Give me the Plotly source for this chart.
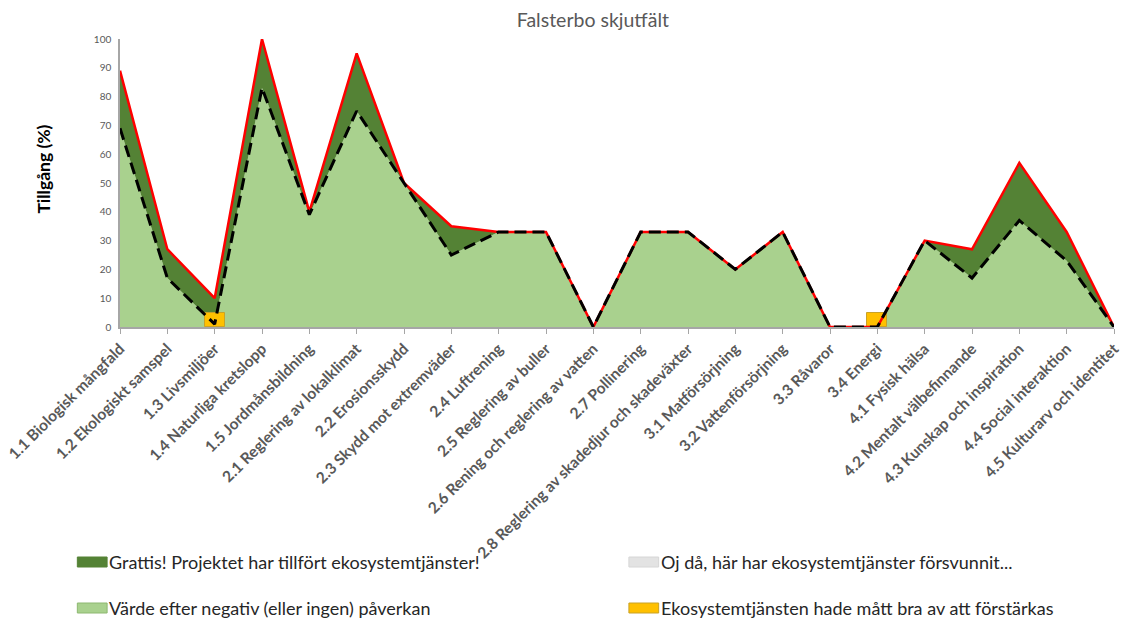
import plotly.graph_objects as go

# Ecosystem services assessed for the site
categories = [
    "1.1 Biologisk mångfald", "1.2 Ekologiskt samspel", "1.3 Livsmiljöer",
    "1.4 Naturliga kretslopp", "1.5 Jordmånsbildning", "2.1 Reglering av lokalklimat",
    "2.2 Erosionsskydd", "2.3 Skydd mot extremväder", "2.4 Luftrening",
    "2.5 Reglering av buller", "2.6 Rening och reglering av vatten", "2.7 Pollinering",
    "2.8 Reglering av skadedjur och skadeväxter", "3.1 Matförsörjning",
    "3.2 Vattenförsörjning", "3.3 Råvaror", "3.4 Energi", "4.1 Fysisk hälsa",
    "4.2 Mentalt välbefinnande", "4.3 Kunskap och inspiration",
    "4.4 Social interaktion", "4.5 Kulturarv och identitet",
]

# Availability (%) after negative (or no) impact
after_values = [69, 17, 1, 83, 39, 75, 50, 25, 33, 33, 0, 33, 33, 20, 33, 0, 0, 30, 17, 37, 23, 0]
# Availability (%) including what the project has added
total_values = [89, 27, 10, 100, 40, 95, 50, 35, 33, 33, 0, 33, 33, 20, 33, 0, 0, 30, 27, 57, 33, 0]
# Services that have been lost
loss_values = [0] * 22
# Services that would benefit from being strengthened
strengthen_values = [0, 0, 5, 0, 0, 0, 0, 0, 0, 0, 0, 0, 0, 0, 0, 0, 5, 0, 0, 0, 0, 0]

# Legend texts
legend_labels = [
    "Grattis! Projektet har tillfört ekosystemtjänster!",
    "Oj då, här har ekosystemtjänster försvunnit...",
    "Värde efter negativ (eller ingen) påverkan",
    "Ekosystemtjänsten hade mått bra av att förstärkas",
]

LIGHT_GREEN = "#A9D18E"
DARK_GREEN = "#548235"
LOSS_GREY = "#E3E3E3"
ORANGE = "#FFC000"
AXIS_GREY = "#A6A6A6"
TEXT_GREY = "#595959"
FONT = "Lato"

W, H = 1125, 619
M_L, M_R, M_T, M_B = 120, 3, 39, 292
PLOT_W = W - M_L - M_R
PLOT_H = H - M_T - M_B


def px_x(px):
    """Pixel column -> paper x."""
    return (px - M_L) / PLOT_W


def px_y(py):
    """Pixel row -> paper y."""
    return (H - M_B - py) / PLOT_H


fig = go.Figure()

# Stacked areas: base value, loss band, gain band
fig.add_trace(go.Scatter(
    x=categories, y=after_values, mode="lines", fill="tozeroy",
    fillcolor=LIGHT_GREEN, line=dict(width=0, color=LIGHT_GREEN),
    name=legend_labels[2], showlegend=False, hoverinfo="skip",
))
loss_top = [a + l for a, l in zip(after_values, loss_values)]
fig.add_trace(go.Scatter(
    x=categories, y=loss_top, mode="lines", fill="tonexty",
    fillcolor=LOSS_GREY, line=dict(width=0, color=LOSS_GREY),
    name=legend_labels[1], showlegend=False, hoverinfo="skip",
))
fig.add_trace(go.Scatter(
    x=categories, y=total_values, mode="lines", fill="tonexty",
    fillcolor=DARK_GREEN, line=dict(width=0, color=DARK_GREEN),
    name=legend_labels[0], showlegend=False, hoverinfo="skip",
))

# Bars and lines sit on an overlay so they are drawn above the areas
fig.add_trace(go.Bar(
    x=categories, y=[v if v else None for v in strengthen_values], width=0.42,
    marker=dict(color=ORANGE, line=dict(color="#C9A227", width=1)),
    name=legend_labels[3], xaxis="x2", yaxis="y2", showlegend=False,
))
fig.add_trace(go.Scatter(
    x=categories, y=total_values, mode="lines",
    line=dict(color="#FF0000", width=2.5),
    xaxis="x2", yaxis="y2", showlegend=False,
))
fig.add_trace(go.Scatter(
    x=categories, y=after_values, mode="lines",
    line=dict(color="#000000", width=3, dash="12px,6px"),
    xaxis="x2", yaxis="y2", showlegend=False,
))

# Two-column legend below the axis labels
legend_items = [
    (legend_labels[0], DARK_GREEN, DARK_GREEN, 77, 562),
    (legend_labels[1], LOSS_GREY, "#D6D6D6", 633, 562),
    (legend_labels[2], LIGHT_GREEN, "#8DB870", 77, 608),
    (legend_labels[3], ORANGE, "#C9A227", 633, 608),
]
shapes = []
annotations = []
for label, fill, border, sx, sy in legend_items:
    shapes.append(dict(
        type="rect", xref="paper", yref="paper",
        x0=px_x(sx), x1=px_x(sx + 30), y0=px_y(sy + 5), y1=px_y(sy - 5),
        fillcolor=fill, line=dict(color=border, width=1),
    ))
    annotations.append(dict(
        text=label, xref="paper", yref="paper", x=px_x(sx + 30), y=px_y(sy),
        xanchor="left", yanchor="middle", showarrow=False,
        font=dict(family=FONT, size=18, color="#262626"),
    ))

annotations.append(dict(
    text="<b>Tillgång (%)</b>", textangle=-90, xref="paper", yref="paper",
    x=px_x(42), y=px_y(169), xanchor="center", yanchor="middle",
    showarrow=False, font=dict(family=FONT, size=17.5, color="#000000"),
))

fig.update_layout(
    width=W, height=H, autosize=False, showlegend=False,
    margin=dict(l=M_L, r=M_R, t=M_T, b=M_B),
    paper_bgcolor="white", plot_bgcolor="white",
    title=dict(text="Falsterbo skjutfält", x=0.527, xanchor="center",
               y=1 - 20 / H, yanchor="middle",
               font=dict(family=FONT, size=19.5, color=TEXT_GREY)),
    xaxis=dict(
        type="category", range=[0, 21], showgrid=False, zeroline=False,
        showline=True, linecolor=AXIS_GREY, linewidth=1.5,
        ticks="outside", ticklen=5, tickcolor=AXIS_GREY, tickwidth=1,
        tickangle=-45,
        tickfont=dict(family=FONT, size=15.5, color=TEXT_GREY, weight="bold"),
    ),
    yaxis=dict(
        range=[0, 100], tickvals=list(range(0, 101, 10)), showgrid=False,
        zeroline=False, showline=True, linecolor=AXIS_GREY, linewidth=1.5,
        ticks="", ticklabelstandoff=5,
        tickfont=dict(family=FONT, size=10, color=TEXT_GREY),
    ),
    xaxis2=dict(type="category", overlaying="x", matches="x", visible=False),
    yaxis2=dict(overlaying="y", range=[0, 100], visible=False),
    bargap=0,
    shapes=shapes,
    annotations=annotations,
)

fig.write_html("out.html")
